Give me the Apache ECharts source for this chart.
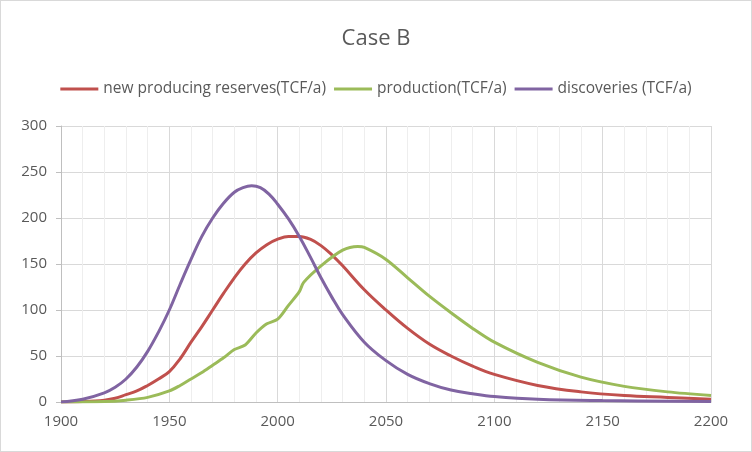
<!DOCTYPE html>
<html>
<head>
<meta charset="utf-8">
<script src="https://cdn.jsdelivr.net/npm/echarts@6/dist/echarts.min.js"></script>
<style>
  html, body { margin: 0; padding: 0; background: #fff; }
  #main { width: 750px; height: 450px; border: 1px solid #d9d9d9; }
</style>
</head>
<body>
<div id="main"></div>
<script>
// years and values
var redYears   = [1900,1910,1920,1925,1930,1935,1940,1945,1950,1955,1960,1965,1970,1975,1980,1985,1990,1995,2000,2005,2010,2015,2020,2025,2030,2040,2050,2060,2070,2080,2090,2100,2120,2140,2160,2180,2200];
var redValues  = [0,0.5,2,4,8,12,18,25,33,47,65,82,100,118,135,150,162,171,177,180,180,177,170,160,148,122,100,80,63,50,39,30,18,11,7,5,3];
var greenYears  = [1900,1920,1930,1940,1950,1955,1960,1965,1970,1975,1980,1985,1990,1995,2000,2005,2010,2012,2020,2030,2037,2040,2050,2060,2070,2080,2090,2100,2120,2140,2160,2180,2200];
var greenValues = [0,0.5,2,5,12,18,25,32,40,48,57,62,75,85,90,105,120,130,148,165,169,168,155,135,115,97,80,65,43,27,17,11,7];
var purpleYears  = [1900,1910,1920,1925,1930,1935,1940,1945,1950,1955,1960,1965,1970,1975,1980,1984,1988,1992,1996,2000,2005,2010,2015,2020,2025,2030,2040,2050,2060,2070,2080,2090,2100,2120,2150,2200];
var purpleValues = [0,3,10,16,25,38,55,76,100,128,155,180,200,216,228,233,235,233,226,215,199,180,158,135,114,95,65,45,30,20,13,9,6,3,1.5,0.5];

function pairs(xs, ys) {
  return xs.map(function (x, i) { return [x, ys[i]]; });
}

var chart = echarts.init(document.getElementById('main'));
var txt = '#595959';
chart.setOption({
  title: {
    text: 'Case B', left: 'center', top: 22,
    textStyle: { fontFamily: 'Open Sans', fontSize: 22, fontWeight: 'normal', color: txt }
  },
  legend: {
    top: 75, left: 'center', itemGap: 8, itemWidth: 38, itemHeight: 3,
    icon: 'rect',
    textStyle: { fontFamily: 'Open Sans', fontSize: 15.5, color: txt }
  },
  grid: { left: 60, right: 40, top: 125, bottom: 49 },
  xAxis: {
    type: 'value', min: 1900, max: 2200, interval: 50,
    axisLine: { lineStyle: { color: '#bfbfbf' } },
    axisTick: { show: false },
    axisLabel: { fontFamily: 'Open Sans', fontSize: 15, color: txt, margin: 12,
      formatter: function (v) { return String(v); } },
    splitLine: { show: true, lineStyle: { color: '#d9d9d9' } },
    minorTick: { show: false, splitNumber: 5 },
    minorSplitLine: { show: true, lineStyle: { color: '#eeeeee' } }
  },
  yAxis: {
    type: 'value', min: 0, max: 300, interval: 50,
    axisLine: { show: true, lineStyle: { color: '#bfbfbf' } },
    axisLabel: { fontFamily: 'Open Sans', fontSize: 15, color: txt, margin: 14 },
    splitLine: { lineStyle: { color: '#d9d9d9' } }
  },
  series: [
    { name: 'new producing reserves(TCF/a)', type: 'line', smooth: 0.4, showSymbol: false,
      data: pairs(redYears, redValues), color: '#c0504d', lineStyle: { width: 3 } },
    { name: 'production(TCF/a)', type: 'line', smooth: 0.3, showSymbol: false,
      data: pairs(greenYears, greenValues), color: '#9bbb59', lineStyle: { width: 3 } },
    { name: 'discoveries (TCF/a)', type: 'line', smooth: 0.4, showSymbol: false,
      data: pairs(purpleYears, purpleValues), color: '#8064a2', lineStyle: { width: 3 } }
  ]
});
</script>
</body>
</html>
